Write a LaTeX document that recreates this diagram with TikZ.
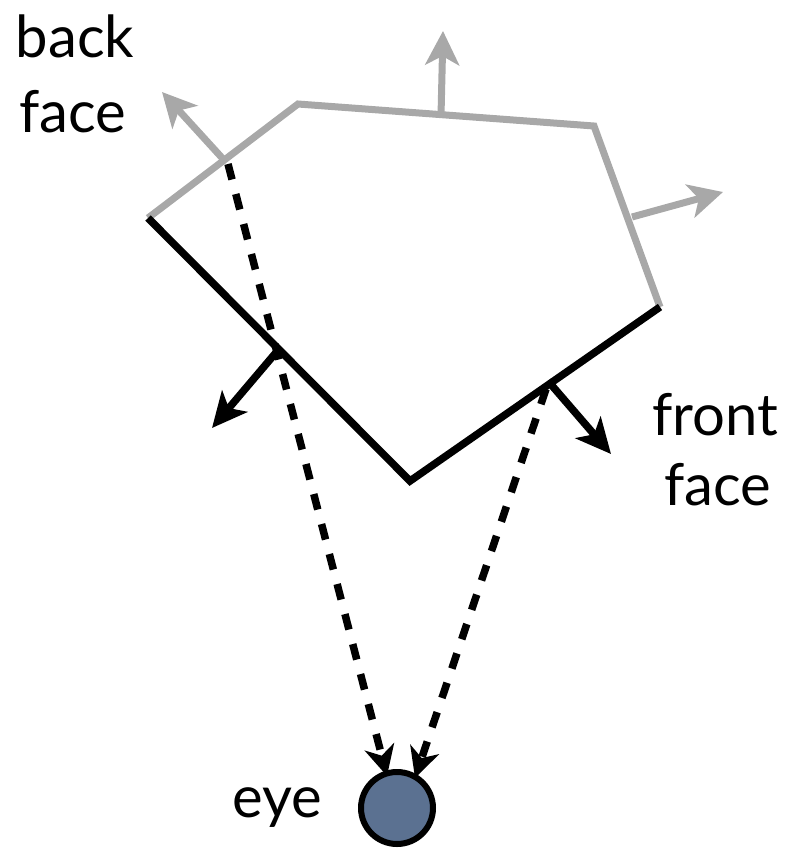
\documentclass[tikz,border=0pt]{standalone}
\usepackage{fontspec}
\setmainfont{Lato}
\usetikzlibrary{arrows.meta}
\definecolor{facegray}{HTML}{A8A8A8}
\definecolor{eyeblue}{HTML}{5B7191}
\tikzset{
  backedge/.style={draw=facegray, line width=7pt, line cap=butt, line join=miter},
  frontedge/.style={draw=black, line width=7.5pt, line join=miter},
  backnormal/.style={draw=facegray, line width=7pt, -{Stealth[length=34pt,width=34pt,inset=9pt]}},
  frontnormal/.style={draw=black, line width=7.5pt, -{Stealth[length=35pt,width=33pt,inset=9pt]}},
  viewray/.style={draw=black, line width=7.5pt, dash pattern=on 16pt off 15pt, -{Stealth[length=30pt,width=30pt,inset=9pt]}},
  lbl/.style={font=\fontsize{58}{70}\selectfont, inner sep=0pt}
}
\begin{document}
\begin{tikzpicture}[x=1pt,y=-1pt]
\useasboundingbox (0,0) rectangle (790,849);
% polygon vertices
\coordinate (v1) at (148,218);
\coordinate (v2) at (298,104);
\coordinate (v3) at (594,126);
\coordinate (v4) at (660,307);
\coordinate (v5) at (410,481);
% normals
\coordinate (nb1) at (224,160);
\coordinate (nb1t) at (162,92);
\coordinate (nb2) at (441,116);
\coordinate (nb2t) at (443,31);
\coordinate (nb3) at (632,217);
\coordinate (nb3t) at (723,192);
\coordinate (nf1) at (279,349);
\coordinate (nf1t) at (212,428);
\coordinate (nf2) at (548,381);
\coordinate (nf2t) at (611,454);
% eye
\node[circle, draw=black, line width=6pt, fill=eyeblue, minimum size=72pt, inner sep=0pt] (eye) at (397,808) {};
\coordinate (r1s) at (228,164);
\coordinate (r2s) at (546,389);
\coordinate (r1e) at (387,776);
\coordinate (r2e) at (415,778);
% edges
\draw[backedge] (v1) -- (v2) -- (v3) -- (v4);
\draw[frontedge] (v4) -- (v5) -- (v1);
\draw[backnormal] (nb1) -- (nb1t);
\draw[backnormal] (nb2) -- (nb2t);
\draw[backnormal] (nb3) -- (nb3t);
\draw[frontnormal] (nf1) -- (nf1t);
\draw[frontnormal] (nf2) -- (nf2t);
% view rays
\draw[viewray] (r1s) -- (r1e);
\draw[viewray] (r2s) -- (r2e);
% labels
\node[lbl, anchor=base] (backlbl) at (75,57) {back};
\node[lbl, anchor=base] (backlbl2) at (72.5,132) {face};
\node[lbl, anchor=base] (frontlbl) at (715,435) {front};
\node[lbl, anchor=base] (frontlbl2) at (717.5,505) {face};
\node[lbl, anchor=base east] (eyelbl) at (322,817) {eye};
\end{tikzpicture}
\end{document}
